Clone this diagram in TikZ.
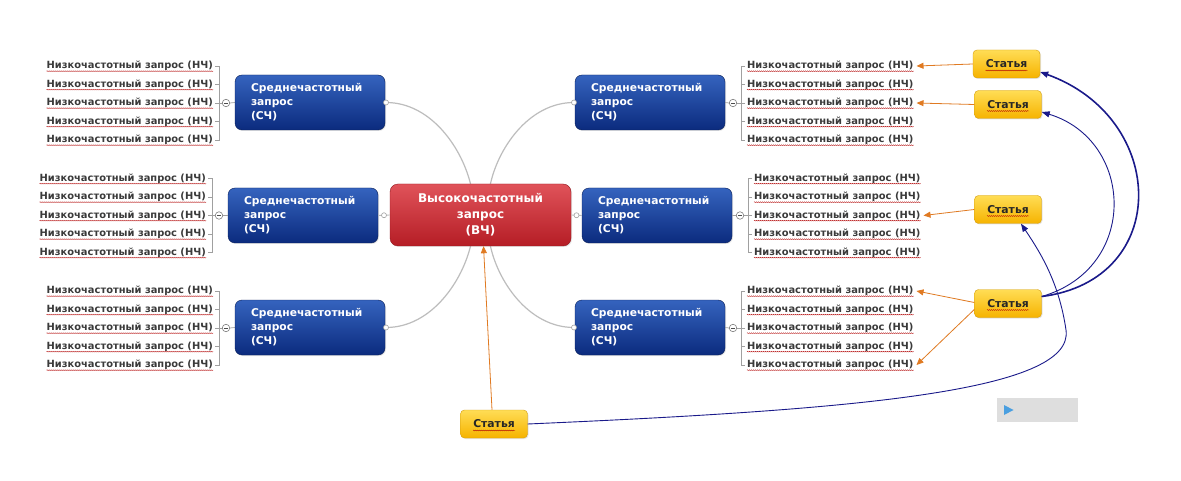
\documentclass[tikz,border=0pt]{standalone}
\usepackage{fontspec}
\setmainfont{DejaVu Sans}
\usetikzlibrary{arrows.meta,shadows,decorations.pathmorphing,calc}
\definecolor{leafc}{HTML}{3A3A3A}
\definecolor{blueT}{HTML}{3563BE}
\definecolor{blueB}{HTML}{0B2B7E}
\definecolor{redT}{HTML}{E0535A}
\definecolor{redB}{HTML}{B51D25}
\definecolor{yelT}{HTML}{FFDD55}
\definecolor{yelB}{HTML}{F6B300}
\definecolor{yelD}{HTML}{D49E12}
\definecolor{orng}{HTML}{E07A22}
\definecolor{navy}{HTML}{1A1A8A}
\definecolor{brkc}{HTML}{A0A0A0}
\definecolor{curvc}{HTML}{BDBDBD}
\definecolor{triblue}{HTML}{4A9FE0}
\tikzset{
  leaf/.style={inner sep=0pt, text=leafc, font=\fontsize{9.9}{11}\selectfont\bfseries},
  midnode/.style={rounded corners=7pt, draw=blueB!70!black, top color=blueT, bottom color=blueB,
    minimum width=150pt, minimum height=55pt, text width=118pt, align=left, text=white,
    font=\fontsize{10.7}{14}\selectfont\bfseries,
    drop shadow={opacity=0.2,shadow xshift=1pt,shadow yshift=-1pt}},
  hinode/.style={rounded corners=8pt, draw=redB!80!black, top color=redT, bottom color=redB,
    minimum width=181pt, minimum height=62pt, align=center, text=white,
    font=\fontsize{12}{16}\selectfont\bfseries,
    drop shadow={opacity=0.2,shadow xshift=1pt,shadow yshift=-1pt}},
  artnode/.style={rounded corners=4pt, draw=yelD, top color=yelT, bottom color=yelB,
    minimum width=67pt, minimum height=28pt, text=black!85,
    font=\fontsize{10.8}{12}\selectfont\bfseries,
    drop shadow={opacity=0.2,shadow xshift=1pt,shadow yshift=-1pt}},
  brk/.style={draw=brkc, line width=0.7pt},
  curv/.style={draw=curvc, line width=1.2pt},
  dotc/.style={circle, draw=brkc, fill=white, inner sep=0pt, minimum size=5pt, line width=0.6pt},
  minusc/.style={circle, draw=brkc!80!black, fill=white, inner sep=0pt, minimum size=7.5pt, line width=0.6pt,
    path picture={\draw[line width=0.7pt,black!70] ([xshift=-2pt]path picture bounding box.center) -- ([xshift=2pt]path picture bounding box.center);}},
  oarr/.style={draw=orng, line width=0.8pt, -{Triangle[length=7pt,width=6pt]}},
  narr/.style={draw=navy, line width=0.9pt, -{Triangle[length=8pt,width=6pt]}},
  squig/.style={draw=red!70!black, line width=0.35pt, decorate, decoration={snake, amplitude=0.45pt, segment length=2pt}}
}
\newcommand\lgrp[4]{%
  \foreach \i in {1,...,5}{%
    \pgfmathsetmacro\yy{#3+(\i-3)*18.5}
    \node[leaf,anchor=east] (#1\i) at (#2,\yy) {Низкочастотный запрос (НЧ)};
  }
  \draw[brk] ([xshift=2pt]#11.east) -| ([xshift=6pt]#15.east) -- ([xshift=2pt]#15.east);
  \foreach \i in {2,3,4}{\draw[brk] ([xshift=2pt]#1\i.east) -- ([xshift=6pt]#1\i.east);}
  \node[minusc] (#1c) at ([xshift=13pt]#13.east) {};
  \draw[brk] ([xshift=6pt]#13.east) -- (#1c.west);
  \draw[brk] (#1c.east) -- (#4.west);
}
\newcommand\rgrp[4]{%
  \foreach \i in {1,...,5}{%
    \pgfmathsetmacro\yy{#3+(\i-3)*18.5}
    \node[leaf,anchor=west] (#1\i) at (#2,\yy) {Низкочастотный запрос (НЧ)};
  }
  \draw[brk] ([xshift=-2pt]#11.west) -| ([xshift=-6pt]#15.west) -- ([xshift=-2pt]#15.west);
  \foreach \i in {2,3,4}{\draw[brk] ([xshift=-2pt]#1\i.west) -- ([xshift=-6pt]#1\i.west);}
  \node[minusc] (#1c) at ([xshift=-14pt]#13.west) {};
  \draw[brk] ([xshift=-6pt]#13.west) -- (#1c.east);
  \draw[brk] (#1c.west) -- (#4.east);
}
\begin{document}
\begin{tikzpicture}[x=1pt,y=-1pt]
\useasboundingbox[fill=white] (0,0) rectangle (1181,481);

% central connectors (drawn first)
\coordinate (cTL) at (386,102.5);
\coordinate (cTR) at (574,102.5);
\coordinate (cBL) at (386,327.5);
\coordinate (cBR) at (574,327.5);
\draw[curv] (cTL) .. controls (432,102.5) and (463,150) .. (471,186);
\draw[curv] (cTR) .. controls (528,102.5) and (497,150) .. (490,186);
\draw[curv] (cBL) .. controls (432,327.5) and (463,280) .. (471,244);
\draw[curv] (cBR) .. controls (528,327.5) and (497,280) .. (490,244);

% central node
\node[hinode] (C) at (480.5,215) {Высокочастотный\\запрос\\(ВЧ)};

% mid nodes
\node[midnode] (TL) at (310,102.5) {Среднечастотный\\запрос\\(СЧ)};
\node[midnode] (ML) at (303,215.5) {Среднечастотный\\запрос\\(СЧ)};
\node[midnode] (BL) at (310,327.5) {Среднечастотный\\запрос\\(СЧ)};
\node[midnode] (TR) at (650,102.5) {Среднечастотный\\запрос\\(СЧ)};
\node[midnode] (MR) at (657,215.5) {Среднечастотный\\запрос\\(СЧ)};
\node[midnode] (BR) at (650,327.5) {Среднечастотный\\запрос\\(СЧ)};

\draw[curv,line width=0.9pt] (ML.east) -- (C.west);
\draw[curv,line width=0.9pt] (C.east) -- (MR.west);
\node[dotc] (dTL) at (cTL) {};
\node[dotc] (dTR) at (cTR) {};
\node[dotc] (dBL) at (cBL) {};
\node[dotc] (dBR) at (cBR) {};
\node[dotc] (dML) at ($(ML.east)!0.5!(C.west)$) {};
\node[dotc] (dMR) at ($(C.east)!0.5!(MR.west)$) {};

% leaf groups
\lgrp{tl}{213}{103}{TL}
\lgrp{ml}{206}{215.5}{ML}
\lgrp{bl}{213}{328}{BL}
\rgrp{tr}{747}{103}{TR}
\rgrp{mr}{754}{215.5}{MR}
\rgrp{br}{747}{328}{BR}

\foreach \g in {tl,ml,bl,tr,mr,br}{
  \foreach \i in {1,...,5}{
    \draw[squig] ($(\g\i.base west)+(0,2.4)$) -- ($(\g\i.base east)+(0,2.4)$);
  }
}

% article nodes
\node[artnode] (A1) at (1006.5,64) {Статья};
\node[artnode] (A2) at (1008,104.5) {Статья};
\node[artnode] (A3) at (1008,209.5) {Статья};
\node[artnode] (A4) at (1008,303.5) {Статья};
\node[artnode] (A5) at (494,424) {Статья};
\foreach \a in {A1,A2,A3,A4,A5}{
  \draw[squig] ($(\a.center)+(-21,6.5)$) -- ($(\a.center)+(21,6.5)$);
}

% orange arrows
\draw[oarr] (A1.west) -- ([xshift=3pt]tr1.east);
\draw[oarr] (A2.west) -- ([xshift=3pt]tr3.east);
\draw[oarr] (A3.west) -- ([xshift=3pt]mr3.east);
\draw[oarr] ([yshift=1pt]A4.west) -- ([xshift=3pt]br1.east);
\draw[oarr] ([yshift=-6pt]A4.west) -- ([xshift=3pt]br5.east);
\draw[oarr] ([xshift=-2pt]A5.north) -- ([xshift=3pt]C.south);

% navy arrows
\draw[narr,line width=1.6pt] ([yshift=7pt]A4.east) .. controls (1172,280) and (1168,118) .. ([yshift=-8pt]A1.east);
\draw[narr] ([yshift=7pt]A4.east) .. controls (1140,268) and (1134,140) .. ([yshift=-7.5pt]A2.east);
\draw[narr] (A5.east) .. controls (850,410) and (1075,392) .. (1066,330)
   .. controls (1059,282) and (1040,252) .. ([xshift=13pt]A3.south);

% grey box with triangle
\fill[black!13] (997,398) rectangle (1078,422);
\fill[triblue] (1004,405) -- (1013.5,410) -- (1004,415) -- cycle;
\end{tikzpicture}
\end{document}
